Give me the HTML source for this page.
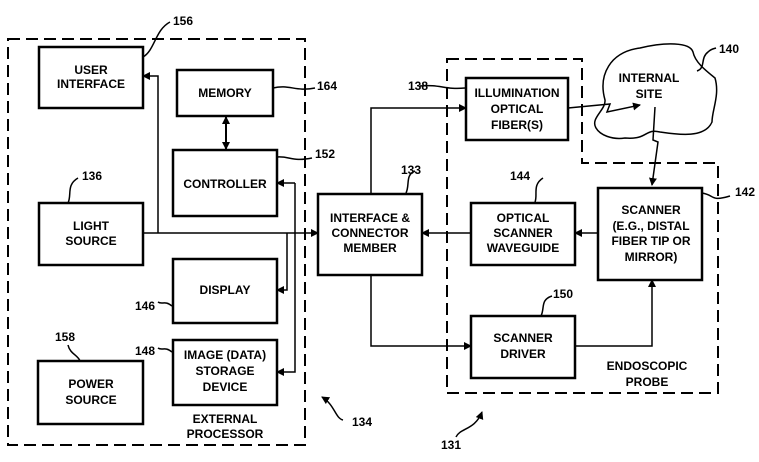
<!DOCTYPE html>
<html><head><meta charset="utf-8"><style>
html,body{margin:0;padding:0;background:#fff}
svg{display:block}
text{font-family:"Liberation Sans",sans-serif;font-weight:bold;font-size:12px;fill:#000;text-anchor:middle}
</style></head><body>
<svg width="759" height="462" viewBox="0 0 759 462" xmlns="http://www.w3.org/2000/svg">
<defs>
<marker id="a" markerWidth="8" markerHeight="8" refX="7" refY="4" orient="auto" markerUnits="userSpaceOnUse"><path d="M0,0 L8,4 L0,8 z" fill="#000"/></marker>
<marker id="b" markerWidth="8" markerHeight="8" refX="1" refY="4" orient="auto" markerUnits="userSpaceOnUse"><path d="M8,0 L0,4 L8,8 z" fill="#000"/></marker>
</defs>
<g fill="none" stroke="#000">
<rect x="8" y="39" width="297" height="406" stroke-width="2" stroke-dasharray="12,6"/>
<path d="M447,59 H582 V163 H718 V393 H447 Z" stroke-width="2" stroke-dasharray="12,6"/>
<g stroke-width="2.5">
<rect x="39" y="47" width="104" height="61"/>
<rect x="177" y="70" width="96" height="46"/>
<rect x="173" y="150" width="104" height="66"/>
<rect x="39" y="203" width="104" height="62"/>
<rect x="173" y="259" width="104" height="64"/>
<rect x="173" y="340" width="104" height="65"/>
<rect x="38" y="361" width="105" height="63"/>
<rect x="318" y="194" width="104" height="81"/>
<rect x="466" y="78" width="102" height="62"/>
<rect x="471" y="203" width="104" height="62"/>
<rect x="598" y="188" width="104" height="92"/>
<rect x="471" y="316" width="104" height="62"/>
</g>
<path d="M605,100 C598,75 610,52 640,48 C665,42 690,42 693,52 C695,62 705,70 715,78 C720,95 712,110 712,122 C705,138 680,135 660,132 C645,128 648,140 625,138 C612,140 600,135 596,128 C590,118 606,110 605,100 Z" stroke-width="1.5"/>
<g stroke-width="1.5">
<path d="M143,233 H318" marker-end="url(#a)"/>
<path d="M158,233 V76 H143" marker-end="url(#a)"/>
<path d="M287,233 V290 H277" marker-end="url(#a)"/>
<path d="M295,183 H277" marker-end="url(#a)"/>
<path d="M295,183 V372 H277" marker-end="url(#a)"/>
<path d="M226,117 V149" stroke-width="2" marker-start="url(#b)" marker-end="url(#a)"/>
<path d="M371,194 V108 H466" marker-end="url(#a)"/>
<path d="M568,108 L610,104 L607,112 L640,105" marker-end="url(#a)"/>
<path d="M655,107 L653,140 L658,142 L652,185" marker-end="url(#a)"/>
<path d="M598,233 H575" marker-end="url(#a)"/>
<path d="M471,233 H422" marker-end="url(#a)"/>
<path d="M371,275 V346 H471" marker-end="url(#a)"/>
<path d="M575,346 H652 V280" marker-end="url(#a)"/>
<path d="M143,57 C155,50 155,30 170,22"/>
<path d="M273,88 C290,84 295,92 315,88"/>
<path d="M277,157 C290,156 292,162 312,158"/>
<path d="M68,203 C72,195 66,185 78,178"/>
<path d="M172,306 C165,300 162,305 158,302"/>
<path d="M172,352 C165,346 162,351 158,348"/>
<path d="M80,361 C78,355 70,354 68,345"/>
<path d="M420,86 C440,84 445,90 465,88"/>
<path d="M406,193 C410,185 405,175 415,171"/>
<path d="M535,202 C538,195 532,185 543,178"/>
<path d="M702,193 C715,195 710,202 730,196"/>
<path d="M541,316 C545,308 540,300 552,296"/>
<path d="M697,71 C706,68 700,58 708,52 C711,49 713,49 716,48"/>
<path d="M343,420 C335,418 335,405 322,397" marker-end="url(#a)"/>
<path d="M456,437 C460,428 475,430 482,412" marker-end="url(#a)"/>
</g>
</g>
<text x="91" y="74">USER</text><text x="91" y="88">INTERFACE</text>
<text x="225" y="97">MEMORY</text>
<text x="225" y="188">CONTROLLER</text>
<text x="91" y="230">LIGHT</text><text x="91" y="245">SOURCE</text>
<text x="225" y="294">DISPLAY</text>
<text x="225" y="359">IMAGE (DATA)</text><text x="225" y="375">STORAGE</text><text x="225" y="391">DEVICE</text>
<text x="91" y="388">POWER</text><text x="91" y="404">SOURCE</text>
<text x="225" y="423">EXTERNAL</text><text x="225" y="438">PROCESSOR</text>
<text x="370" y="222">INTERFACE &amp;</text><text x="370" y="237">CONNECTOR</text><text x="370" y="252">MEMBER</text>
<text x="517" y="97">ILLUMINATION</text><text x="517" y="113">OPTICAL</text><text x="517" y="129">FIBER(S)</text>
<text x="523" y="222">OPTICAL</text><text x="523" y="237">SCANNER</text><text x="523" y="252">WAVEGUIDE</text>
<text x="651" y="214">SCANNER</text><text x="651" y="230">(E.G., DISTAL</text><text x="651" y="245">FIBER TIP OR</text><text x="651" y="261">MIRROR)</text>
<text x="523" y="342">SCANNER</text><text x="523" y="358">DRIVER</text>
<text x="647" y="370">ENDOSCOPIC</text><text x="647" y="386">PROBE</text>
<text x="649" y="82">INTERNAL</text><text x="649" y="98">SITE</text>
<text x="183" y="25">156</text>
<text x="327" y="90">164</text>
<text x="325" y="158">152</text>
<text x="92" y="180">136</text>
<text x="145" y="310">146</text>
<text x="145" y="355">148</text>
<text x="65" y="341">158</text>
<text x="362" y="426">134</text>
<text x="418" y="90">138</text>
<text x="411" y="174">133</text>
<text x="520" y="180">144</text>
<text x="729" y="53">140</text>
<text x="745" y="196">142</text>
<text x="563" y="298">150</text>
<text x="451" y="449">131</text>
</svg>
</body></html>
